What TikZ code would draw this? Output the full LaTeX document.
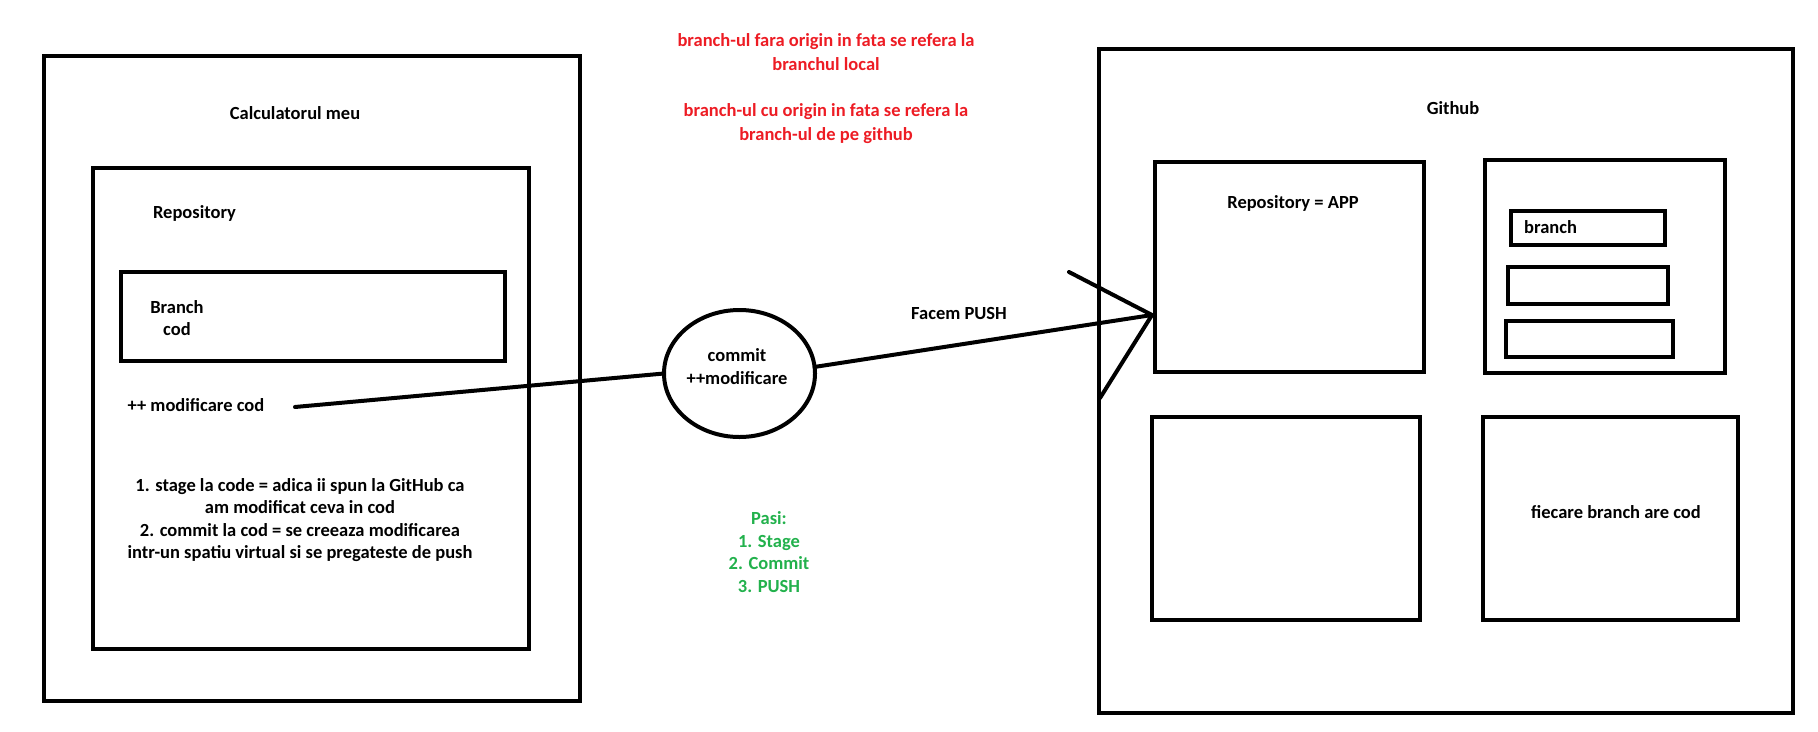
\documentclass[tikz,border=0pt]{standalone}
\usepackage{fontspec}
\setmainfont{Carlito}
\usetikzlibrary{shapes.geometric}
\definecolor{pred}{RGB}{237,28,36}
\definecolor{pgreen}{RGB}{34,177,76}
\tikzset{
  box/.style={draw, line width=4pt, line join=miter, inner sep=0pt, outer sep=0pt},
  lbl/.style={font=\bfseries\fontsize{18.5}{22.5}\selectfont, align=center, inner sep=0pt},
  conn/.style={line width=4pt, line cap=round},
}
\begin{document}
\begin{tikzpicture}[x=1pt,y=-1pt]
\useasboundingbox (0,0) rectangle (1818,731);
% left side
\node[box, minimum width=536, minimum height=645] (pc) at (312,378.5) {};
\node[box, minimum width=436, minimum height=481] (repo) at (311,408.5) {};
\node[box, minimum width=384, minimum height=89] (branch) at (313,316.5) {};
\node[lbl] (pct) at (295,113) {Calculatorul meu};
\node[lbl] (repot) at (194.5,213) {Repository};
\node[lbl] (brt) at (177,318) {Branch\\cod};
\node[lbl] (mod) at (196,405) {++ modificare cod};
\node[lbl] (steps) at (300,520) {1. stage la code = adica ii spun la GitHub ca\\am modificat ceva in cod\\2. commit la cod = se creeaza modificarea\\intr-un spatiu virtual si se pregateste de push};
% middle
\node[lbl, text=pred, font=\bfseries\fontsize{18.5}{23.3}\selectfont] (note) at (826,88.5) {branch-ul fara origin in fata se refera la\\branchul local\\[23.3pt]branch-ul cu origin in fata se refera la\\branch-ul de pe github};
\node[draw, ellipse, line width=4pt, minimum width=151, minimum height=127, inner sep=0pt, outer sep=0pt] (commit) at (739.5,373.5) {};
\node[lbl] (committ) at (737,366.5) {commit\\++modificare};
\node[lbl] (push) at (959,313) {Facem PUSH};
\node[lbl, text=pgreen] (pasi) at (769,552) {Pasi:\\1. Stage\\2. Commit\\3. PUSH};
% right side
\node[box, minimum width=694, minimum height=664] (gh) at (1446,381) {};
\node[box, minimum width=269, minimum height=210] (app) at (1289.5,267) {};
\node[box, minimum width=240, minimum height=213] (brs) at (1605,266.5) {};
\node[box, minimum width=154, minimum height=34] (b1) at (1588,228) {};
\node[box, minimum width=160, minimum height=37] (b2) at (1588,285.5) {};
\node[box, minimum width=167, minimum height=36] (b3) at (1589.5,339) {};
\node[box, minimum width=268, minimum height=203] (bl) at (1286,518.5) {};
\node[box, minimum width=255, minimum height=203] (br) at (1610.5,518.5) {};
\node[lbl] (ght) at (1453,108) {Github};
\node[lbl] (appt) at (1293,203) {Repository = APP};
\node[lbl, anchor=west] (b1t) at (1524,227) {branch};
\node[lbl] (brt2) at (1616,512) {fiecare branch are cod};
% connectors
\coordinate (lstart) at (295,407);
\coordinate (tip) at (1152,315);
\coordinate (armA) at (1069,272);
\coordinate (armB) at (1100,398);
\draw[conn] (lstart) -- (commit.west);
\draw[conn] (commit.5) -- (tip);
\draw[conn] (armA) -- (tip) -- (armB);
\end{tikzpicture}
\end{document}
